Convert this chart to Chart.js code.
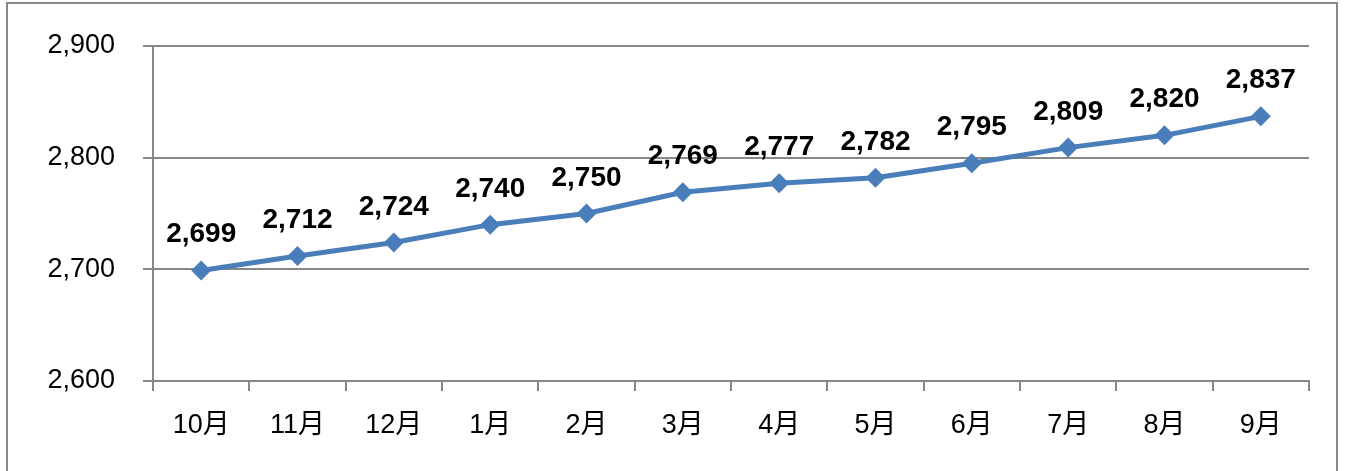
<!DOCTYPE html>
<html>
<head>
<meta charset="utf-8">
<script src="https://cdn.jsdelivr.net/npm/chart.js@4"></script>
<style>
  html, body { margin: 0; padding: 0; background: #fff; }
  #wrap { position: relative; width: 1346px; height: 471px; overflow: hidden; }
  #frame { position: absolute; left: 6px; top: 2px; width: 1332px; height: 480px; border: 2px solid #898989; box-sizing: border-box; }
  canvas { position: absolute; left: 0; top: 0; }
</style>
</head>
<body>
<div id="wrap">
  <div id="frame"></div>
  <canvas id="chart" width="1346" height="471"></canvas>
</div>
<script>
// chart data
const months = ['10月', '11月', '12月', '1月', '2月', '3月', '4月', '5月', '6月', '7月', '8月', '9月'];
const values = [2699, 2712, 2724, 2740, 2750, 2769, 2777, 2782, 2795, 2809, 2820, 2837];
const yTicks = [2600, 2700, 2800, 2900];

const fontFamily = '"Liberation Sans", "Noto Sans CJK JP", sans-serif';
const gridColor = '#888888';

// draws the bold value above each point
const valueLabels = {
  id: 'valueLabels',
  afterDatasetsDraw(chart) {
    const ctx = chart.ctx;
    const meta = chart.getDatasetMeta(0);
    ctx.save();
    ctx.font = 'bold 28px ' + fontFamily;
    ctx.fillStyle = '#000';
    ctx.textAlign = 'center';
    ctx.textBaseline = 'alphabetic';
    meta.data.forEach((pt, i) => {
      ctx.fillText(values[i].toLocaleString('en-US'), pt.x, pt.y - 28);
    });
    ctx.restore();
  }
};

new Chart(document.getElementById('chart'), {
  type: 'line',
  data: {
    labels: months,
    datasets: [{
      data: values,
      borderColor: '#4a7ebb',
      backgroundColor: '#4a7ebb',
      borderWidth: 5,
      pointStyle: 'rectRot',
      pointRadius: 10,
      pointBorderWidth: 0,
      tension: 0
    }]
  },
  options: {
    responsive: false,
    animation: false,
    layout: { padding: { left: 0, top: 46, right: 37, bottom: 0 } },
    plugins: { legend: { display: false }, tooltip: { enabled: false } },
    scales: {
      x: {
        offset: true,
        grid: { offset: true, drawOnChartArea: false, drawTicks: true, tickLength: 10, color: gridColor, lineWidth: 2 },
        border: { color: gridColor, width: 2 },
        ticks: { color: '#000', font: { family: fontFamily, size: 27 }, padding: 18, maxRotation: 0 },
        afterFit(scale) { scale.height = 90; }
      },
      y: {
        min: 2600,
        max: 2900,
        afterBuildTicks(scale) { scale.ticks = yTicks.map(v => ({ value: v })); },
        grid: { color: gridColor, lineWidth: 2, tickLength: 10 },
        border: { color: gridColor, width: 2 },
        ticks: {
          color: '#000',
          font: { family: fontFamily, size: 27 },
          padding: 28,
          callback: v => v.toLocaleString('en-US')
        },
        afterFit(scale) { scale.width = 153; }
      }
    }
  },
  plugins: [valueLabels]
});
</script>
</body>
</html>
